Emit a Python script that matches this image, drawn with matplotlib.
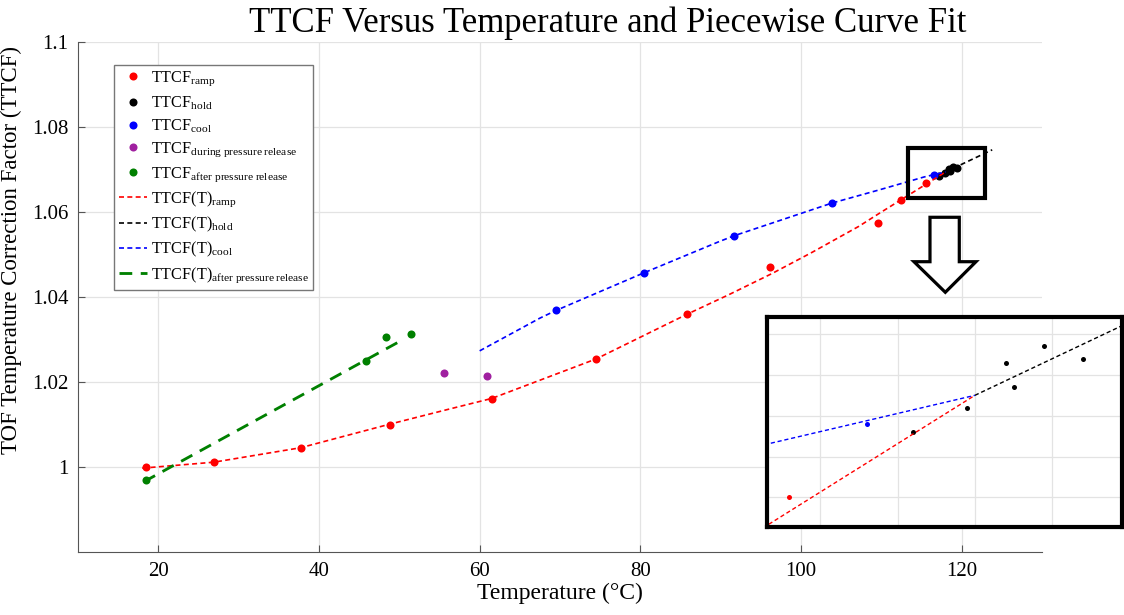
import matplotlib
matplotlib.use('Agg')
import matplotlib.pyplot as plt
from matplotlib.patches import Rectangle, Polygon
from matplotlib.ticker import FormatStrFormatter

plt.rcParams['font.family'] = ['Liberation Serif', 'DejaVu Serif']
plt.rcParams['mathtext.fontset'] = 'custom'
plt.rcParams['mathtext.rm'] = 'Liberation Serif'
plt.rcParams['mathtext.it'] = 'Liberation Serif:italic'

# measured TTCF points
ramp_t = [18.5, 26.9, 37.8, 48.8, 61.5, 74.5, 85.8, 96.2, 109.6, 112.5, 115.6]
ramp_f = [1.0001, 1.0012, 1.0046, 1.0099, 1.0161, 1.0254, 1.0360, 1.0472, 1.0574, 1.0630, 1.0670]
hold_t = [117.2, 117.9, 118.4, 118.5, 118.9, 119.4]
hold_f = [1.0686, 1.0692, 1.0703, 1.0697, 1.0707, 1.0704]
cool_t = [116.6, 103.9, 91.7, 80.5, 69.5]
cool_f = [1.0688, 1.0622, 1.0545, 1.0457, 1.0369]
during_t = [55.6, 60.9]
during_f = [1.0223, 1.0214]
after_t = [18.5, 45.9, 48.4, 51.5]
after_f = [0.9970, 1.0251, 1.0306, 1.0314]

# piecewise fit curves (traced)
ramp_fit_t = [18.0, 26.9, 37.7, 48.7, 56.0, 61.5, 74.5, 85.8, 91.0, 96.4, 101.4, 107.2, 109.7, 115.3, 118.0]
ramp_fit_f = [0.9998, 1.0012, 1.0046, 1.0101, 1.0136, 1.0162, 1.0255, 1.0360, 1.0406, 1.0456, 1.0506, 1.0567, 1.0597, 1.0663, 1.0695]
cool_fit_t = [60.0, 67.5, 69.5, 80.5, 89.8, 91.7, 103.9, 109.6, 115.3, 118.0]
cool_fit_f = [1.0274, 1.0351, 1.0369, 1.0458, 1.0531, 1.0545, 1.0622, 1.0652, 1.0683, 1.0695]
hold_fit_t = [118.0, 123.8]
hold_fit_f = [1.0695, 1.0747]
after_fit_t = [18.2, 50.6]
after_fit_f = [0.9966, 1.0302]

xticks = [20, 40, 60, 80, 100, 120]
yticks = [1.0, 1.02, 1.04, 1.06, 1.08, 1.1]

RED, BLACK, BLUE, PURPLE, GREEN = '#ff0000', '#000000', '#0000ff', '#a020a0', '#008000'
short_dash = (0, (3, 2))
long_dash = (0, (4.5, 3))


def draw_data(ax, ms, lw, with_labels=True):
    lab = (lambda s: s) if with_labels else (lambda s: '_nolegend_')
    ax.plot(ramp_t, ramp_f, 'o', color=RED, ms=ms, mec='none', label=lab(r'TTCF$_{\mathrm{ramp}}$'))
    ax.plot(hold_t, hold_f, 'o', color=BLACK, ms=ms, mec='none', label=lab(r'TTCF$_{\mathrm{hold}}$'))
    ax.plot(cool_t, cool_f, 'o', color=BLUE, ms=ms, mec='none', label=lab(r'TTCF$_{\mathrm{cool}}$'))
    ax.plot(during_t, during_f, 'o', color=PURPLE, ms=ms, mec='none',
            label=lab(r'TTCF$_{\mathrm{during\ pressure\ release}}$'))
    ax.plot(after_t, after_f, 'o', color=GREEN, ms=ms, mec='none',
            label=lab(r'TTCF$_{\mathrm{after\ pressure\ release}}$'))
    ax.plot(ramp_fit_t, ramp_fit_f, color=RED, lw=lw, ls=short_dash, label=lab(r'TTCF(T)$_{\mathrm{ramp}}$'))
    ax.plot(hold_fit_t, hold_fit_f, color=BLACK, lw=lw, ls=short_dash, label=lab(r'TTCF(T)$_{\mathrm{hold}}$'))
    ax.plot(cool_fit_t, cool_fit_f, color=BLUE, lw=lw, ls=short_dash, label=lab(r'TTCF(T)$_{\mathrm{cool}}$'))
    ax.plot(after_fit_t, after_fit_f, color=GREEN, lw=lw * 1.7, ls=long_dash,
            label=lab(r'TTCF(T)$_{\mathrm{after\ pressure\ release}}$'))


fig = plt.figure(figsize=(11.24, 6.15), dpi=100)
ax = fig.add_axes([78 / 1124, 1 - 552.3 / 615, 964 / 1124, 510 / 615])
draw_data(ax, ms=5.8, lw=1.2)

ax.set_xlim(10, 130)
ax.set_ylim(0.98, 1.1)
ax.set_xticks(xticks)
ax.set_yticks(yticks)
ax.yaxis.set_major_formatter(FormatStrFormatter('%g'))
ax.grid(True, color='#e3e3e3', lw=0.9)
ax.set_axisbelow(True)
for side in ['top', 'right']:
    ax.spines[side].set_visible(False)
for side in ['left', 'bottom']:
    ax.spines[side].set_color('#555555')
ax.tick_params(direction='in', length=5, color='#555555', labelsize=15, pad=7)
ax.set_xlabel('Temperature (°C)', fontsize=17, labelpad=1)
ax.set_ylabel('TOF Temperature Correction Factor (TTCF)', fontsize=16.5)
ax.yaxis.set_label_coords(-0.058, 0.593)
fig.text(0.541, 0.99, 'TTCF Versus Temperature and Piecewise Curve Fit', fontsize=25,
         ha='center', va='top')

leg = ax.legend(loc='upper left', bbox_to_anchor=(0.0373, 0.9555), borderaxespad=0,
                fontsize=11.7, handlelength=1.75, handletextpad=0.2, labelspacing=0.36,
                borderpad=0.3, fancybox=False, edgecolor='#777777', framealpha=1)
leg.get_frame().set_linewidth(1.0)

# highlight box around the hold cluster and a hollow arrow pointing to the zoom
ax.add_patch(Rectangle((113.3, 1.0633), 9.6, 0.0118, fill=False, lw=3, ec='black', zorder=5))
arrow = [(0.8838, 0.6569), (0.9142, 0.6569), (0.9142, 0.5698), (0.9315, 0.5698),
         (0.8997, 0.5098), (0.8672, 0.5698), (0.8838, 0.5698)]
ax.add_patch(Polygon(arrow, closed=True, transform=ax.transAxes, fc='white', ec='black',
                     lw=2.3, zorder=5))

# zoomed inset
ins = fig.add_axes([767 / 1124, 1 - 526.7 / 615, 354.7 / 1124, 209.7 / 615])
draw_data(ins, ms=3.6, lw=1.0, with_labels=False)
ins.set_xlim(115.31, 119.9)
ins.set_ylim(1.06628, 1.07142)
ins.set_xticks([116, 117, 118, 119])
ins.set_yticks([1.067, 1.068, 1.069, 1.070, 1.071])
ins.tick_params(length=0, labelbottom=False, labelleft=False)
ins.grid(True, color='#e3e3e3', lw=0.9)
ins.set_axisbelow(True)
for s in ins.spines.values():
    s.set_linewidth(3)
    s.set_color('black')

fig.savefig('out.png', dpi=100)
